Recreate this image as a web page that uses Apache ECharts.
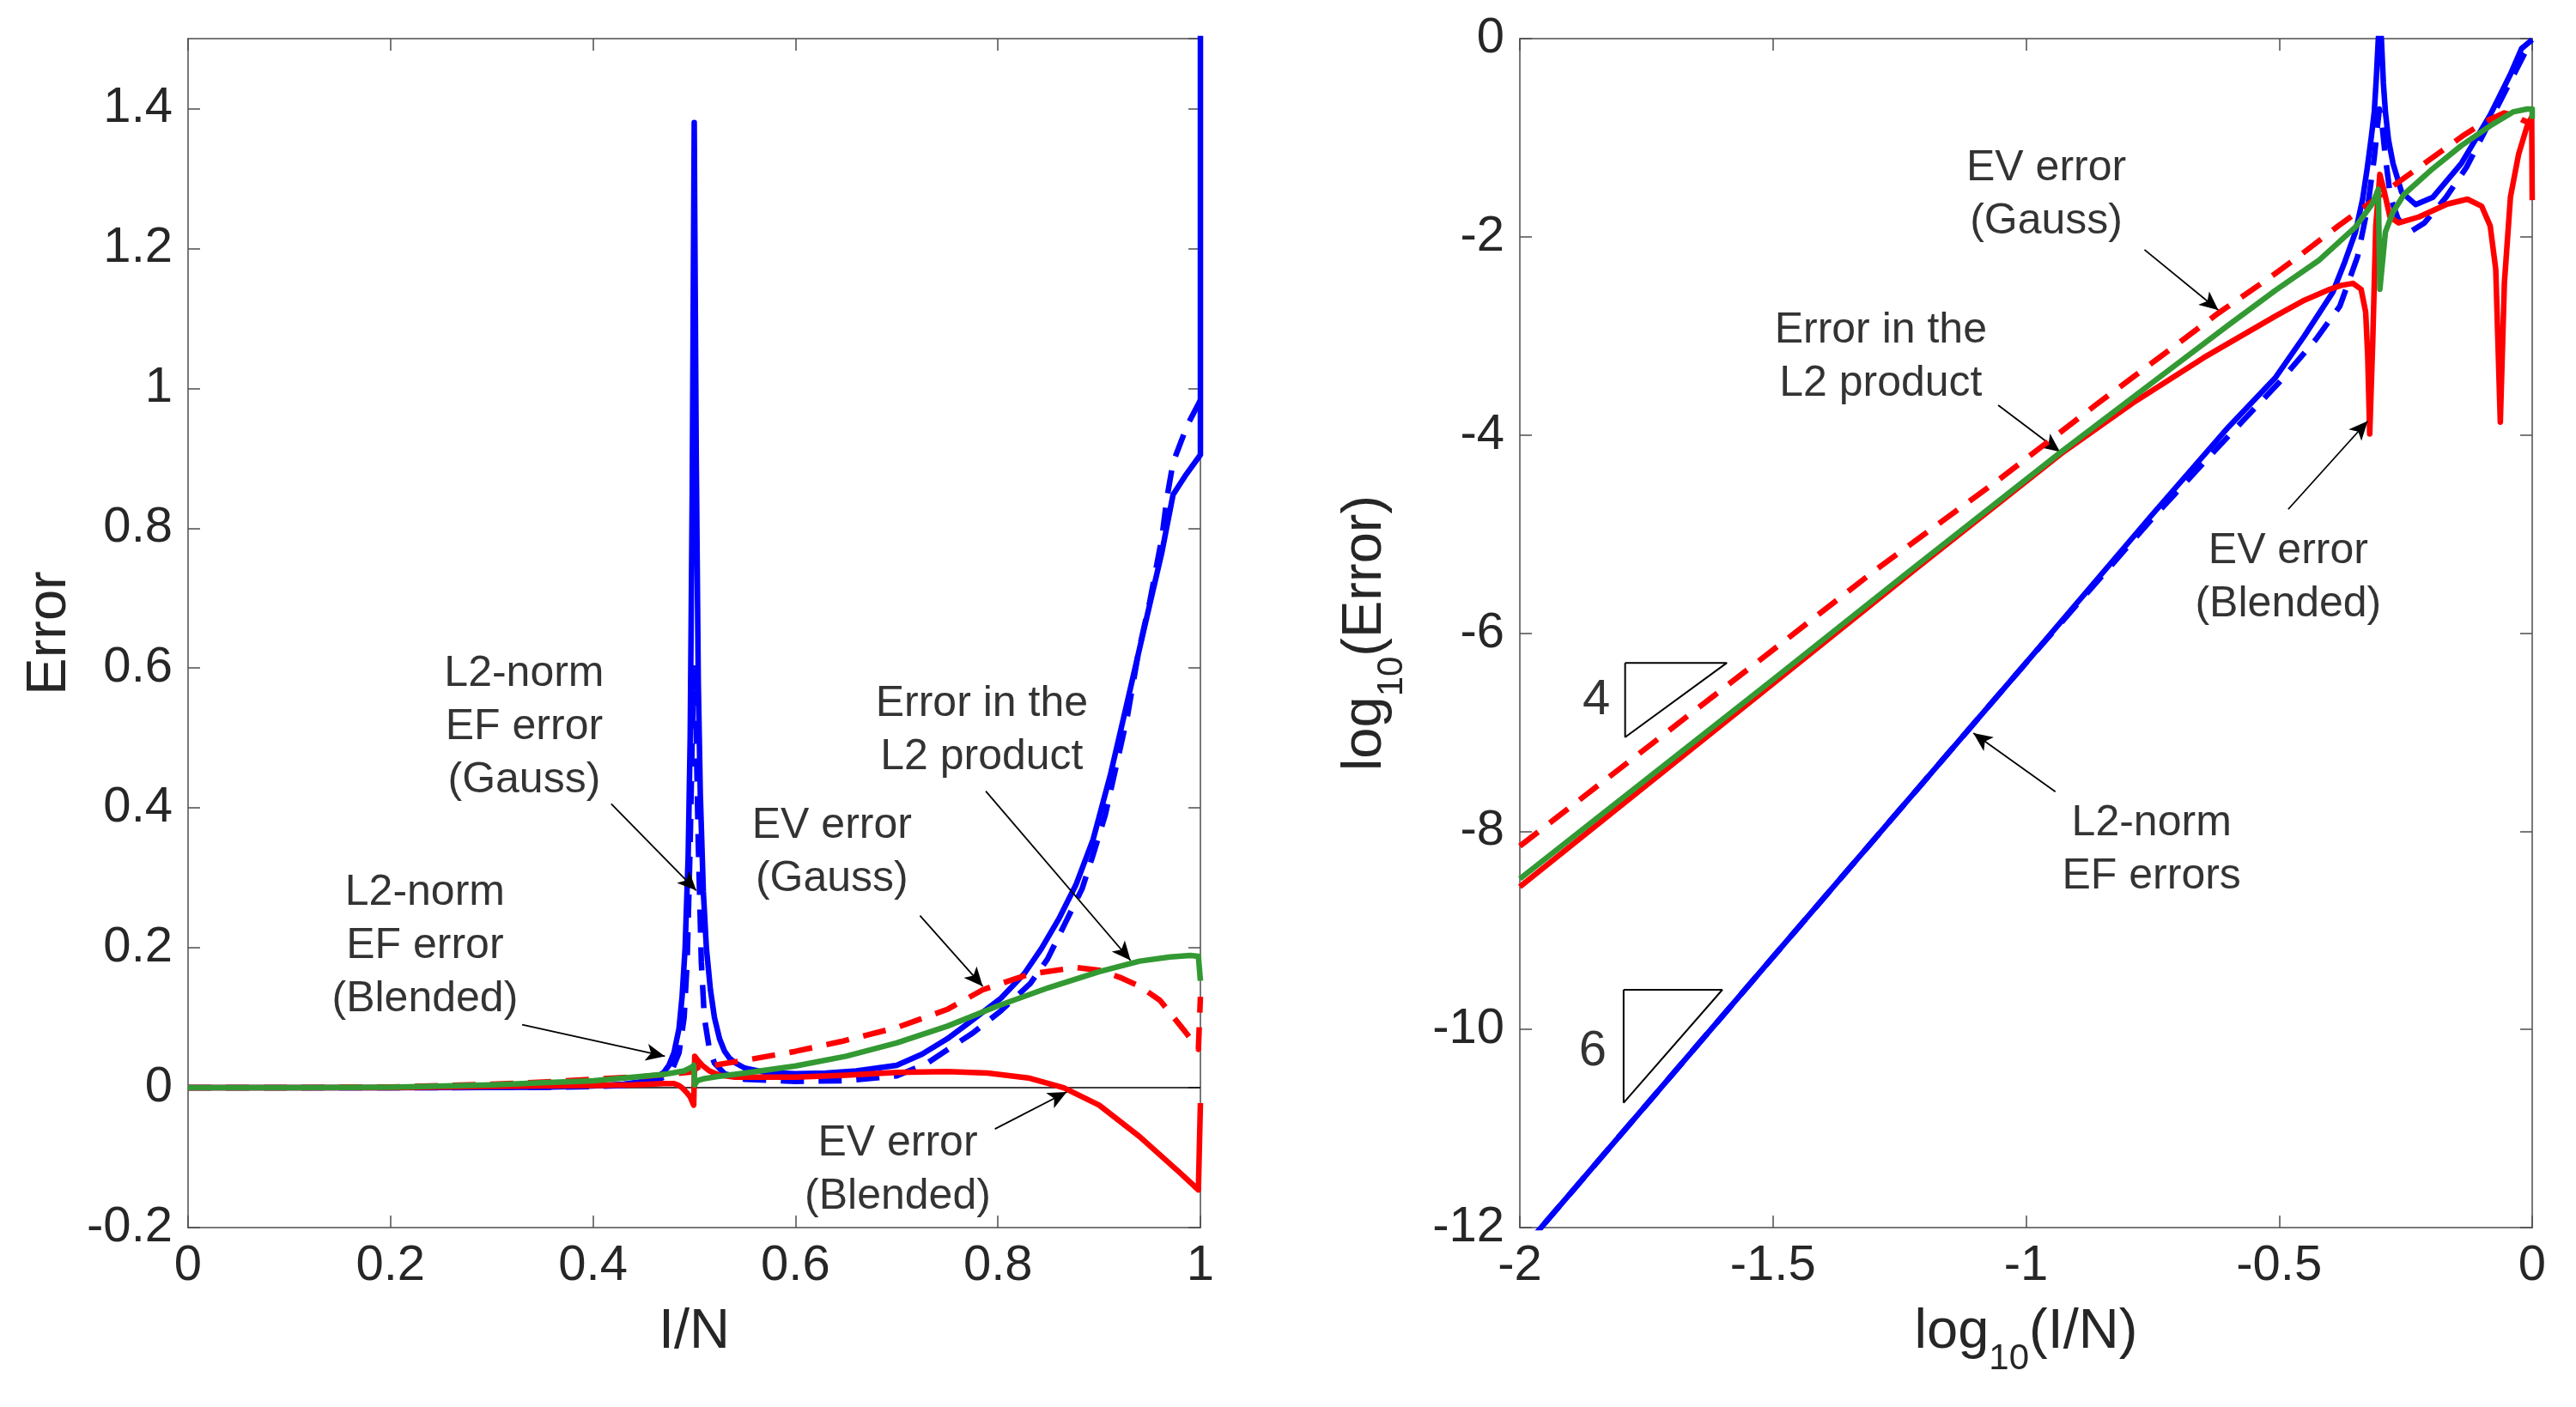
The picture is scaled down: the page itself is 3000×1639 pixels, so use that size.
<!DOCTYPE html>
<html>
<head>
<meta charset="utf-8">
<script src="https://cdn.jsdelivr.net/npm/echarts@6/dist/echarts.min.js"></script>
<style>
  html, body { margin: 0; padding: 0; background: #fff; }
  #chart { width: 3000px; height: 1639px; }
</style>
</head>
<body>
<div id="chart"></div>
<script>
// ---------- left panel: Error vs I/N ----------
// L2-norm EF error (Blended), solid blue
const blendEfX = [0, 0.1, 0.2, 0.3, 0.35, 0.4, 0.43, 0.45, 0.46, 0.47, 0.475, 0.48, 0.485, 0.488, 0.491, 0.494, 0.496, 0.498, 0.4995, 0.5, 0.5005, 0.502, 0.504, 0.506, 0.509, 0.512, 0.516, 0.52, 0.525, 0.53, 0.535, 0.54, 0.55, 0.57, 0.6, 0.63, 0.66, 0.7, 0.725, 0.75, 0.775, 0.803, 0.826, 0.843, 0.86, 0.877, 0.894, 0.911, 0.928, 0.945, 0.962, 0.973, 0.986, 1.0, 1.0];
const blendEfY = [0, 0, 0.0001, 0.0003, 0.0008, 0.0025, 0.005, 0.009, 0.013, 0.022, 0.032, 0.05, 0.085, 0.13, 0.2, 0.33, 0.5, 0.85, 1.25, 1.38, 1.25, 0.9, 0.58, 0.42, 0.28, 0.2, 0.14, 0.1, 0.07, 0.052, 0.042, 0.036, 0.028, 0.022, 0.02, 0.021, 0.024, 0.032, 0.048, 0.07, 0.097, 0.128, 0.163, 0.199, 0.241, 0.29, 0.355, 0.447, 0.553, 0.66, 0.766, 0.848, 0.877, 0.905, 1.6];
// L2-norm EF error (Gauss), dashed blue
const gaussEfX = [0, 0.1, 0.2, 0.3, 0.35, 0.4, 0.43, 0.45, 0.46, 0.47, 0.478, 0.485, 0.49, 0.493, 0.496, 0.498, 0.5, 0.502, 0.504, 0.507, 0.51, 0.515, 0.52, 0.53, 0.55, 0.6, 0.65, 0.7, 0.73, 0.758, 0.775, 0.803, 0.832, 0.849, 0.866, 0.883, 0.894, 0.906, 0.917, 0.928, 0.939, 0.95, 0.962, 0.967, 0.973, 0.987, 1.0];
const gaussEfY = [0, 0, 0.0001, 0.0003, 0.0006, 0.0016, 0.003, 0.006, 0.009, 0.015, 0.025, 0.05, 0.1, 0.18, 0.35, 0.5, 0.6, 0.5, 0.35, 0.18, 0.1, 0.055, 0.035, 0.02, 0.012, 0.009, 0.01, 0.017, 0.035, 0.062, 0.078, 0.11, 0.149, 0.184, 0.234, 0.284, 0.333, 0.39, 0.461, 0.532, 0.624, 0.695, 0.787, 0.844, 0.894, 0.947, 0.983];
// EV error (Gauss), dashed red
const gaussEvX = [0, 0.1, 0.2, 0.3, 0.35, 0.4, 0.45, 0.48, 0.495, 0.5, 0.505, 0.515, 0.557, 0.6, 0.645, 0.7, 0.75, 0.785, 0.83, 0.877, 0.9, 0.92, 0.94, 0.96, 0.985, 0.998, 1.0];
const gaussEvY = [0, 0.0001, 0.001, 0.005, 0.008, 0.012, 0.016, 0.02, 0.022, 0.025, 0.03, 0.031, 0.041, 0.052, 0.066, 0.086, 0.112, 0.14, 0.162, 0.172, 0.168, 0.158, 0.145, 0.125, 0.08, 0.055, 0.13];
// EV error (Blended), solid red
const blendEvX = [0, 0.1, 0.2, 0.3, 0.4, 0.44, 0.47, 0.48, 0.485, 0.488, 0.492, 0.496, 0.4995, 0.5005, 0.503, 0.508, 0.515, 0.525, 0.54, 0.6, 0.65, 0.7, 0.75, 0.79, 0.83, 0.865, 0.9, 0.94, 0.98, 0.998, 1.0];
const blendEvY = [0, 0, 0.0002, 0.0019, 0.003, 0.004, 0.006, 0.006, 0.003, 0, -0.006, -0.013, -0.025, 0.045, 0.04, 0.032, 0.024, 0.018, 0.015, 0.015, 0.018, 0.022, 0.023, 0.021, 0.014, 0, -0.025, -0.07, -0.122, -0.146, -0.022];
// Error in the L2 product, green
const l2ProdX = [0, 0.1, 0.2, 0.3, 0.35, 0.4, 0.44, 0.47, 0.49, 0.497, 0.4995, 0.5005, 0.503, 0.51, 0.523, 0.55, 0.6, 0.65, 0.7, 0.75, 0.8, 0.85, 0.9, 0.94, 0.97, 0.99, 0.998, 1.0];
const l2ProdY = [0, 0.0001, 0.0006, 0.004, 0.007, 0.01, 0.015, 0.019, 0.024, 0.029, 0.032, 0.004, 0.01, 0.013, 0.016, 0.021, 0.031, 0.045, 0.064, 0.088, 0.117, 0.143, 0.166, 0.181, 0.187, 0.189, 0.188, 0.153];
const zeroLineX = [0, 1];
const zeroLineY = [0, 0];

// ---------- right panel: log10(Error) vs log10(I/N) ----------
const blendEfLogX = [-2, -1.5, -1, -0.75, -0.6, -0.507, -0.45, -0.394, -0.37, -0.349, -0.335, -0.326, -0.318, -0.312, -0.308, -0.304, -0.301, -0.298, -0.294, -0.29, -0.284, -0.275, -0.258, -0.23, -0.196, -0.14, -0.083, -0.043, -0.021, 0];
const blendEfLogY = [-12.25, -9.27, -6.3, -4.8, -3.92, -3.42, -3.0, -2.56, -2.25, -1.95, -1.62, -1.31, -1.0, -0.74, -0.4, 0.0, 0.14, 0.0, -0.45, -0.74, -1.02, -1.26, -1.55, -1.675, -1.6, -1.26, -0.77, -0.36, -0.1, -0.01];
const gaussEfLogX = [-2, -1.5, -1, -0.75, -0.62, -0.5, -0.428, -0.38, -0.345, -0.325, -0.312, -0.305, -0.302, -0.297, -0.29, -0.28, -0.265, -0.241, -0.213, -0.17, -0.13, -0.08, -0.04, -0.015, 0];
const gaussEfLogY = [-12.25, -9.27, -6.3, -4.84, -4.12, -3.47, -3.04, -2.7, -2.2, -1.7, -1.2, -0.85, -0.71, -0.85, -1.2, -1.6, -1.82, -1.95, -1.86, -1.6, -1.3, -0.8, -0.4, -0.15, -0.03];
const gaussEvLogX = [-2, -1.5, -1.299, -1.056, -0.863, -0.711, -0.62, -0.518, -0.462, -0.383, -0.3, -0.213, -0.134, -0.09, -0.055, -0.038, -0.02, 0];
const gaussEvLogY = [-8.15, -6.17, -5.37, -4.46, -3.7, -3.12, -2.77, -2.41, -2.2, -1.89, -1.58, -1.26, -0.97, -0.83, -0.75, -0.77, -0.82, -0.86];
const blendEvLogX = [-2, -1.5, -1.22, -0.931, -0.79, -0.649, -0.507, -0.45, -0.4, -0.377, -0.354, -0.338, -0.329, -0.325, -0.321, -0.315, -0.309, -0.301, -0.292, -0.281, -0.264, -0.224, -0.168, -0.128, -0.1, -0.083, -0.072, -0.063, -0.055, -0.043, -0.027, -0.01, -0.001, 0];
const blendEvLogY = [-8.56, -6.51, -5.36, -4.19, -3.68, -3.22, -2.8, -2.64, -2.53, -2.49, -2.47, -2.53, -2.76, -3.2, -3.99, -3.05, -1.89, -1.37, -1.55, -1.8, -1.86, -1.8, -1.67, -1.62, -1.69, -1.89, -2.33, -3.87, -2.47, -1.6, -1.17, -0.88, -0.79, -1.63];
const l2ProdLogX = [-2, -1.5, -1.2366, -0.931, -0.75, -0.6, -0.507, -0.422, -0.349, -0.315, -0.304, -0.301, -0.29, -0.275, -0.253, -0.196, -0.14, -0.083, -0.038, -0.01, 0, 0];
const l2ProdLogY = [-8.48, -6.47, -5.4, -4.173, -3.47, -2.89, -2.54, -2.24, -1.9, -1.66, -1.52, -2.53, -1.95, -1.75, -1.57, -1.31, -1.08, -0.88, -0.74, -0.71, -0.71, -0.81];
// slope triangles
const tri4X = [-1.792, -1.591, -1.792, -1.792];
const tri4Y = [-6.3, -6.3, -7.05, -6.3];
const tri6X = [-1.795, -1.6, -1.795, -1.795];
const tri6Y = [-9.6, -9.6, -10.74, -9.6];

// annotations: text, text centre, arrow start, arrow tip
const leftNotes = [
  { text: 'L2-norm\nEF error\n(Gauss)', at: [0.332, 0.515], from: [0.418, 0.406], to: [0.502, 0.282] },
  { text: 'L2-norm\nEF error\n(Blended)', at: [0.234, 0.202], from: [0.33, 0.09], to: [0.471, 0.045] },
  { text: 'EV error\n(Gauss)', at: [0.636, 0.336], from: [0.723, 0.246], to: [0.785, 0.145] },
  { text: 'Error in the\nL2 product', at: [0.784, 0.511], from: [0.788, 0.424], to: [0.931, 0.182] },
  { text: 'EV error\n(Blended)', at: [0.701, -0.118], from: [0.797, -0.059], to: [0.868, -0.006] }
];
const rightNotes = [
  { text: 'EV error\n(Gauss)', at: [-0.96, -1.58], from: [-0.766, -2.13], to: [-0.62, -2.74] },
  { text: 'Error in the\nL2 product', at: [-1.287, -3.22], from: [-1.055, -3.7], to: [-0.933, -4.17] },
  { text: 'EV error\n(Blended)', at: [-0.482, -5.44], from: [-0.482, -4.75], to: [-0.325, -3.86] },
  { text: 'L2-norm\nEF errors', at: [-0.752, -8.19], from: [-0.942, -7.6], to: [-1.104, -7.01] }
];
const slopeNotes = [
  { text: '4', at: [-1.849, -6.68] },
  { text: '6', at: [-1.856, -10.22] }
];

const FONT = "'Liberation Sans', Arial, Helvetica, sans-serif";
const AXIS_COLOR = '#4d4d4d';
const TEXT_COLOR = '#262626';
const BLUE = '#0000ff', RED = '#ff0000', GREEN = '#339933';

const zip = (xs, ys) => xs.map((x, i) => [x, ys[i]]);
const fmt = v => String(parseFloat(v.toFixed(2)));

function axis(kind, grid, pos, min, max, interval, labels, extra) {
  return Object.assign({
    type: 'value', gridIndex: grid, position: pos, min: min, max: max, interval: interval,
    axisLine: { show: true, onZero: false, lineStyle: { color: AXIS_COLOR, width: 1.5 } },
    axisTick: { show: true, inside: true, length: 14, lineStyle: { color: AXIS_COLOR, width: 1.5 } },
    axisLabel: {
      show: labels, color: TEXT_COLOR, fontSize: 58, fontFamily: FONT,
      margin: kind === 'x' ? 16 : 18, showMaxLabel: kind === 'x' || max === 0,
      formatter: fmt
    },
    splitLine: { show: false }
  }, extra || {});
}

function curve(xs, ys, color, dashed, idx, z) {
  return {
    type: 'line', xAxisIndex: idx, yAxisIndex: idx, data: zip(xs, ys),
    symbol: 'none', showSymbol: false, silent: true, z: z,
    lineStyle: { color: color, width: 6.5, type: dashed ? [27, 17] : 'solid', cap: 'butt', join: 'round' }
  };
}

function notes(list, idx) {
  return {
    type: 'scatter', xAxisIndex: idx, yAxisIndex: idx, symbolSize: 1, silent: true, z: 10,
    itemStyle: { color: 'rgba(0,0,0,0)' },
    data: list.map(n => ({ name: n.text, value: n.at })),
    label: {
      show: true, position: 'inside', formatter: '{b}', color: '#000',
      fontSize: 50, lineHeight: 62, fontFamily: FONT, align: 'center'
    },
    markLine: {
      silent: true, animation: false, symbol: ['none', 'arrow'], symbolSize: [15, 22],
      label: { show: false },
      lineStyle: { color: '#000', width: 1.8, type: 'solid' },
      emphasis: { disabled: true },
      data: list.map(n => [{ coord: n.from }, { coord: n.to }])
    }
  };
}

function triangle(xs, ys) {
  return {
    type: 'line', xAxisIndex: 2, yAxisIndex: 2, data: zip(xs, ys), symbol: 'none', silent: true,
    lineStyle: { color: '#000', width: 2 }, z: 9
  };
}

// subscript "10" in log10(...) names
const subRich = {
  b: { fontSize: 65, lineHeight: 65, fontFamily: FONT, color: TEXT_COLOR, verticalAlign: 'top' },
  s: { fontSize: 42, lineHeight: 84, fontFamily: FONT, color: TEXT_COLOR, verticalAlign: 'bottom' }
};

const option = {
  animation: false,
  backgroundColor: '#fff',
  grid: [
    { left: 219, top: 45, width: 1179, height: 1385 },
    { left: 1770, top: 45, width: 1179, height: 1385 }
  ],
  xAxis: [
    axis('x', 0, 'bottom', 0, 1, 0.2, true, {
      name: 'I/N', nameLocation: 'middle', nameGap: 90,
      nameTextStyle: { fontSize: 65, fontFamily: FONT, color: TEXT_COLOR }
    }),
    axis('x', 0, 'top', 0, 1, 0.2, false),
    axis('x', 1, 'bottom', -2, 0, 0.5, true, {
      name: '{b|log}{s|10}{b|(I/N)}', nameLocation: 'middle', nameGap: 90,
      nameTextStyle: { rich: subRich }
    }),
    axis('x', 1, 'top', -2, 0, 0.5, false)
  ],
  yAxis: [
    axis('y', 0, 'left', -0.2, 1.5, 0.2, true, {
      name: 'Error', nameLocation: 'middle', nameGap: 128,
      nameTextStyle: { fontSize: 65, fontFamily: FONT, color: TEXT_COLOR }
    }),
    axis('y', 0, 'right', -0.2, 1.5, 0.2, false),
    axis('y', 1, 'left', -12, 0, 2, true, {
      name: '{b|log}{s|10}{b|(Error)}', nameLocation: 'middle', nameGap: 128,
      nameTextStyle: { rich: subRich }
    }),
    axis('y', 1, 'right', -12, 0, 2, false)
  ],
  series: [
    { type: 'line', xAxisIndex: 0, yAxisIndex: 0, data: zip(zeroLineX, zeroLineY), symbol: 'none', silent: true,
      lineStyle: { color: '#000', width: 1.5 }, z: 1 },
    curve(blendEfX, blendEfY, BLUE, false, 0, 2),
    curve(gaussEfX, gaussEfY, BLUE, true, 0, 3),
    curve(blendEvX, blendEvY, RED, false, 0, 4),
    curve(gaussEvX, gaussEvY, RED, true, 0, 5),
    curve(l2ProdX, l2ProdY, GREEN, false, 0, 6),
    notes(leftNotes, 0),

    curve(gaussEfLogX, gaussEfLogY, BLUE, true, 2, 2),
    curve(blendEfLogX, blendEfLogY, BLUE, false, 2, 3),
    curve(blendEvLogX, blendEvLogY, RED, false, 2, 4),
    curve(gaussEvLogX, gaussEvLogY, RED, true, 2, 5),
    curve(l2ProdLogX, l2ProdLogY, GREEN, false, 2, 6),
    notes(rightNotes, 2),
    triangle(tri4X, tri4Y),
    triangle(tri6X, tri6Y),
    {
      type: 'scatter', xAxisIndex: 2, yAxisIndex: 2, symbolSize: 1, silent: true, z: 10,
      itemStyle: { color: 'rgba(0,0,0,0)' },
      data: slopeNotes.map(n => ({ name: n.text, value: n.at })),
      label: { show: true, position: 'inside', formatter: '{b}', color: '#000', fontSize: 58, fontFamily: FONT }
    }
  ]
};

const chart = echarts.init(document.getElementById('chart'));
chart.setOption(option);
</script>
</body>
</html>
